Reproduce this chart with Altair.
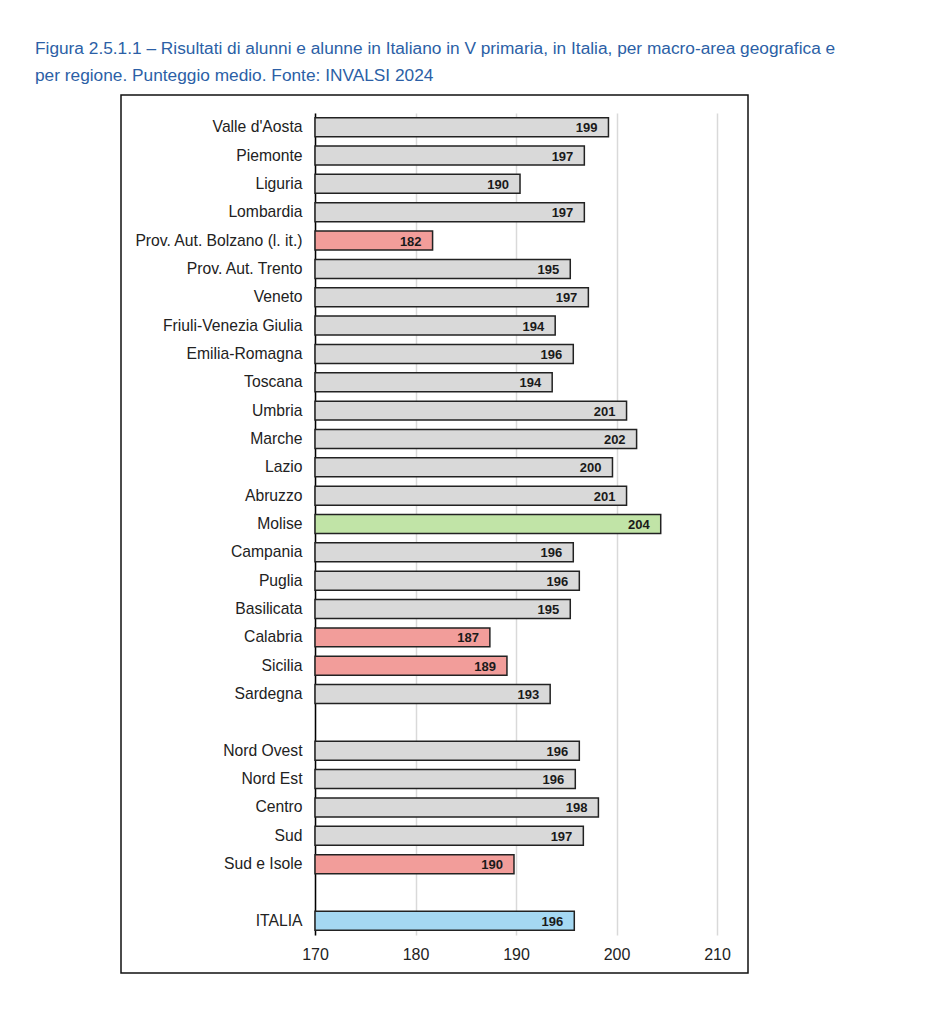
import altair as alt
import pandas as pd

regions = [
    "Valle d'Aosta", "Piemonte", "Liguria", "Lombardia", "Prov. Aut. Bolzano (l. it.)",
    "Prov. Aut. Trento", "Veneto", "Friuli-Venezia Giulia", "Emilia-Romagna", "Toscana",
    "Umbria", "Marche", "Lazio", "Abruzzo", "Molise", "Campania", "Puglia", "Basilicata",
    "Calabria", "Sicilia", "Sardegna",
    "Nord Ovest", "Nord Est", "Centro", "Sud", "Sud e Isole",
    "ITALIA",
]
scores = [
    199.2, 196.8, 190.4, 196.8, 181.7,
    195.4, 197.2, 193.9, 195.7, 193.6,
    201.0, 202.0, 199.6, 201.0, 204.4, 195.7, 196.3, 195.4,
    187.4, 189.1, 193.4,
    196.3, 195.9, 198.2, 196.7, 189.8,
    195.8,
]
groups = [
    "grigio", "grigio", "grigio", "grigio", "rosso",
    "grigio", "grigio", "grigio", "grigio", "grigio",
    "grigio", "grigio", "grigio", "grigio", "verde", "grigio", "grigio", "grigio",
    "rosso", "rosso", "grigio",
    "grigio", "grigio", "grigio", "grigio", "rosso",
    "blu",
]

# category order with blank separator rows
order = regions[:21] + [" "] + regions[21:26] + ["  "] + regions[26:]

df = pd.DataFrame({"area": regions, "punteggio": scores, "gruppo": groups})

title_lines = [
    "Figura 2.5.1.1 – Risultati di alunni e alunne in Italiano in V primaria, in Italia, per macro-area geografica e",
    "per regione. Punteggio medio. Fonte: INVALSI 2024",
]

y_enc = alt.Y(
    "area:N",
    sort=order,
    scale=alt.Scale(domain=order, paddingInner=0.33, paddingOuter=0.165),
    axis=alt.Axis(
        title=None, ticks=False, domain=True, domainColor="#000000", domainWidth=1.5,
        labelFont="Liberation Sans", labelFontSize=15.7, labelColor="#222222",
        labelPadding=13, labelLimit=300,
    ),
)
x_scale = alt.Scale(domain=[170, 210], zero=False, nice=False)

bars = alt.Chart(df).mark_bar(stroke="#222222", strokeWidth=1.5).encode(
    x=alt.X(
        "punteggio:Q", scale=x_scale,
        axis=alt.Axis(
            title=None, values=[170, 180, 190, 200, 210], ticks=False, domain=False,
            grid=True, gridColor="#d9d9d9", gridWidth=1.5,
            labelFont="Liberation Sans", labelFontSize=16, labelColor="#222222",
            labelPadding=11, labelFlush=False, labelOverlap=False,
        ),
    ),
    x2=alt.datum(170),
    y=y_enc,
    color=alt.Color(
        "gruppo:N",
        scale=alt.Scale(
            domain=["grigio", "rosso", "verde", "blu"],
            range=["#d9d9d9", "#f29d9a", "#c1e4a7", "#a5d8f2"],
        ),
        legend=None,
    ),
)

labels = alt.Chart(df).mark_text(
    align="right", baseline="middle", dx=-11, dy=1,
    font="Liberation Sans", fontSize=13, fontWeight="bold", color="#1a1a1a",
).encode(
    x=alt.X("punteggio:Q", scale=x_scale),
    y=alt.Y("area:N", sort=order, scale=alt.Scale(domain=order)),
    text=alt.Text("punteggio:Q", format=".0f"),
)

frame = alt.Chart(alt.Data(values=[{"k": 1}])).mark_rect(
    fill="transparent", stroke="#111111", strokeWidth=1.5
).encode(
    x=alt.value(-194), x2=alt.value(433), y=alt.value(-18), y2=alt.value(860)
)

chart = alt.layer(frame, bars, labels).properties(
    width=402,
    height=822,
    padding={"left": 307, "top": 105, "right": 180, "bottom": 60},
    autosize=alt.AutoSizeParams(type="none"),
    title=alt.TitleParams(
        text=title_lines, anchor="start", frame="group", dx=-280, offset=10,
        font="Liberation Sans", fontSize=17.3, fontWeight="normal", color="#2c5fa6",
        lineHeight=27, limit=900,
    ),
).configure_view(stroke=None)

chart.save("out.html", embed_options={"renderer": "svg", "actions": False})
